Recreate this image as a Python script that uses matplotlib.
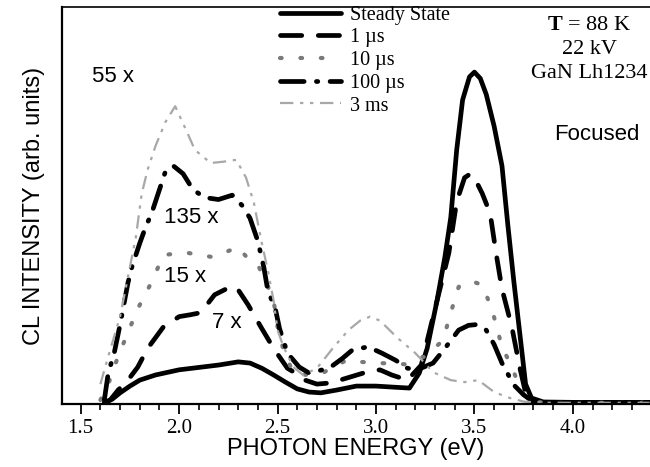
import numpy as np
import matplotlib
matplotlib.use('Agg')
import matplotlib.pyplot as plt
from matplotlib.ticker import MultipleLocator, FormatStrFormatter

plt.rcParams['mathtext.fontset'] = 'custom'
plt.rcParams['mathtext.rm'] = 'Liberation Serif'
plt.rcParams['mathtext.bf'] = 'Liberation Serif:bold'

SERIF = 'Liberation Serif'
SANS = 'Liberation Sans'

# steady state (solid)
e_ss = [1.62, 1.66, 1.70, 1.75, 1.80, 1.88, 2.00, 2.10, 2.20, 2.30, 2.36, 2.42, 2.48, 2.54,
        2.60, 2.66, 2.72, 2.80, 2.90, 3.00, 3.10, 3.17, 3.22, 3.26, 3.31, 3.35, 3.38, 3.41,
        3.44, 3.475, 3.50, 3.53, 3.56, 3.60, 3.64, 3.67, 3.70, 3.73, 3.76, 3.79, 3.85, 4.0, 4.39]
i_ss = [0.3, 1.2, 2.8, 4.5, 6, 7.3, 8.6, 9.2, 9.8, 10.6, 10.3, 9, 7.3, 5.5,
        3.8, 3, 2.8, 3.5, 4.5, 4.5, 4.2, 4, 7.8, 14, 26, 37, 47, 64,
        76.6, 82.4, 83.6, 82, 78, 70, 60, 45, 31, 18, 5, 1.5, 0.5, 0.4, 0.4]

# 1 us
e_1us = [1.62, 1.65, 1.69, 1.74, 1.79, 1.84, 1.92, 2.00, 2.06, 2.11, 2.18, 2.24, 2.29, 2.35,
         2.42, 2.48, 2.55, 2.60, 2.64, 2.70, 2.77, 2.87, 2.95, 3.02, 3.08, 3.16, 3.23, 3.30,
         3.37, 3.41, 3.45, 3.48, 3.51, 3.54, 3.58, 3.61, 3.64, 3.69, 3.73, 3.76, 3.80, 3.9, 4.39]
i_1us = [0.3, 1, 3.5, 6, 9.3, 14, 19.4, 22, 22.5, 23, 27.5, 29, 29.5, 25,
         19, 14, 9, 7.5, 6, 5, 5.3, 6.8, 8, 8.6, 7.3, 6, 9.8, 24,
         38, 51, 57, 58, 56, 53, 48, 38, 29, 19.4, 9.3, 2.8, 0.5, 0.3, 0.3]

# 10 us
e_10us = [1.60, 1.64, 1.69, 1.74, 1.79, 1.86, 1.92, 2.00, 2.05, 2.17, 2.30, 2.36, 2.40, 2.44,
          2.48, 2.50, 2.53, 2.58, 2.65, 2.73, 2.78, 2.85, 2.92, 3.02, 3.15, 3.25, 3.34, 3.38,
          3.42, 3.48, 3.54, 3.59, 3.64, 3.69, 3.74, 3.78, 3.85, 4.39]
i_10us = [1, 5, 12, 18, 24, 30.7, 37.5, 38, 38, 37, 39.5, 36, 35, 31,
          26, 19.4, 13.6, 7.8, 7.3, 7.8, 9.3, 11, 10.6, 10.3, 10, 12, 16, 23,
          29.5, 31, 30, 23.7, 14.4, 9.3, 3, 0.8, 0.3, 0.3]

# 100 us
e_100us = [1.62, 1.64, 1.67, 1.70, 1.74, 1.76, 1.80, 1.83, 1.86, 1.90, 1.93, 1.97, 2.02, 2.07,
           2.13, 2.20, 2.27, 2.32, 2.36, 2.40, 2.43, 2.45, 2.49, 2.51, 2.55, 2.61, 2.66, 2.72,
           2.77, 2.83, 2.88, 2.96, 3.03, 3.10, 3.16, 3.21, 3.29, 3.35, 3.42, 3.47, 3.51, 3.56,
           3.60, 3.64, 3.70, 3.75, 3.80, 3.9, 4.39]
i_100us = [1, 7.8, 12.8, 20, 30.5, 34.5, 40.5, 44.6, 48, 54, 58.5, 60, 58, 54,
           52, 51.5, 52.6, 50, 46.8, 41, 34.5, 28.7, 23.7, 19, 12.8, 9.3, 7.8, 8.5,
           9.3, 11.5, 13.6, 14.4, 12.8, 11, 9, 8.6, 10.3, 14, 18.6, 19.8, 20, 18.6,
           15, 10.3, 4.8, 2.3, 0.5, 0.3, 0.3]

# 3 ms
e_3ms = [1.60, 1.64, 1.70, 1.74, 1.78, 1.81, 1.84, 1.88, 1.93, 1.98, 2.04, 2.08, 2.16, 2.22,
         2.29, 2.34, 2.38, 2.42, 2.45, 2.48, 2.50, 2.53, 2.58, 2.63, 2.70, 2.78, 2.86, 2.92,
         2.97, 3.02, 3.11, 3.20, 3.29, 3.38, 3.45, 3.52, 3.60, 3.68, 3.75, 3.85, 4.39]
i_3ms = [5, 12, 22, 32, 42, 53, 59, 65, 71, 75, 68.5, 64, 60.7, 61,
         61.5, 57, 50.6, 40.5, 33.8, 26, 18.6, 14.4, 9.3, 7.3, 9, 14, 18.6, 21,
         22, 21, 16.6, 12.8, 8, 6, 5.5, 6, 3, 1.5, 0.6, 0.3, 0.3]

fig = plt.figure(figsize=(6.5, 4.67), dpi=100)
ax = fig.add_axes([0.0954, 0.135, 0.904, 0.85])

ax.plot(e_ss, i_ss, color='black', lw=3.4, solid_capstyle='round', label='Steady State')
ax.plot(e_1us, i_1us, color='black', lw=3.4, dashes=(4.5, 3.5), dash_capstyle='round',
        label='1 \u00b5s')
ax.plot(e_10us, i_10us, color='#7a7a7a', lw=3.0, dashes=(0.4, 4.5), dash_capstyle='round',
        label='10 \u00b5s')
ax.plot(e_100us, i_100us, color='black', lw=3.4, dashes=(5, 2.6, 0.3, 2.6), dash_capstyle='round',
        label='100 \u00b5s')
ax.plot(e_3ms, i_3ms, color='#a8a8a8', lw=1.6, dashes=(6, 3, 1.5, 3, 1.5, 3),
        label='3 ms')

ax.set_xlim(1.405, 4.39)
ax.set_ylim(0, 100)
ax.xaxis.set_major_locator(MultipleLocator(0.5))
ax.xaxis.set_minor_locator(MultipleLocator(0.1))
ax.xaxis.set_major_formatter(FormatStrFormatter('%.1f'))
ax.set_yticks([])
ax.tick_params(axis='x', which='major', direction='out', length=7, width=1.3, labelsize=15, pad=4)
ax.tick_params(axis='x', which='minor', direction='out', length=4, width=1.2)
for lab in ax.get_xticklabels():
    lab.set_fontfamily(SERIF)

ax.spines['left'].set_linewidth(1.6)
ax.spines['bottom'].set_linewidth(1.6)
ax.spines['top'].set_linewidth(1.2)
ax.spines['right'].set_visible(False)

ax.set_xlabel('PHOTON ENERGY (eV)', family=SANS, fontsize=17, labelpad=0)
ax.set_ylabel('CL INTENSITY (arb. units)', family=SANS, fontsize=17, labelpad=12)

leg = ax.legend(loc='upper left', bbox_to_anchor=(0.358, 1.024), frameon=False,
                prop={'family': SERIF, 'size': 14.5}, handlelength=3.0, handletextpad=0.45,
                labelspacing=0.18, borderaxespad=0)

ax.text(1.665, 82.5, '55 x', family=SANS, fontsize=16, ha='center', va='center')
ax.text(2.06, 47, '135 x', family=SANS, fontsize=16, ha='center', va='center')
ax.text(2.03, 32, '15 x', family=SANS, fontsize=16, ha='center', va='center')
ax.text(2.24, 20.5, '7 x', family=SANS, fontsize=16, ha='center', va='center')

ax.text(4.085, 95.3, r'$\mathbf{T}$ = 88 K', family=SERIF, fontsize=16, ha='center', va='center')
ax.text(4.085, 89.3, '22 kV', family=SERIF, fontsize=16, ha='center', va='center')
ax.text(4.085, 83.3, 'GaN Lh1234', family=SERIF, fontsize=16, ha='center', va='center')
ax.text(4.12, 67.8, 'Focused', family=SANS, fontsize=16, ha='center', va='center')

fig.savefig('out.png', dpi=100)
